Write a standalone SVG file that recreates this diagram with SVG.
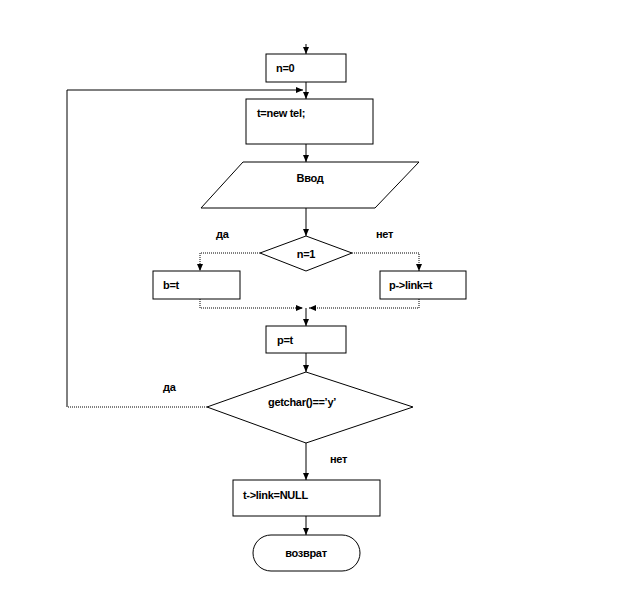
<svg xmlns="http://www.w3.org/2000/svg" width="620" height="589" viewBox="0 0 620 589">
<style>
.box{fill:#fff;stroke:#000;stroke-width:1}
.ln{fill:none;stroke:#000;stroke-width:1}
.dot{fill:none;stroke:#000;stroke-width:1;stroke-dasharray:1 1}
.t{font-family:"Liberation Sans",Arial,sans-serif;font-size:11px;font-weight:bold;fill:#000;letter-spacing:-0.3px}
</style>
<defs>
<marker id="ah" markerWidth="8" markerHeight="8" refX="7" refY="4" orient="auto" markerUnits="userSpaceOnUse">
<path d="M0,1 L7,4 L0,7 Z" fill="#000"/>
</marker>
</defs>
<rect width="620" height="589" fill="#fff"/>
<g id="connectors">
<path class="ln" d="M306,44 V54" marker-end="url(#ah)"/>
<path class="ln" d="M306,82 V99" marker-end="url(#ah)"/>
<path class="dot" d="M207,407 H67"/>
<path class="ln" d="M67,407 V90 H303" marker-end="url(#ah)"/>
<path class="ln" d="M306,144 V162" marker-end="url(#ah)"/>
<path class="ln" d="M306,208 V236" marker-end="url(#ah)"/>
<path class="dot" d="M260,253 H200 V271" marker-end="url(#ah)"/>
<path class="dot" d="M352,253 H419 V271" marker-end="url(#ah)"/>
<path class="dot" d="M200,299 V308 H303" marker-end="url(#ah)"/>
<path class="dot" d="M419,299 V308 H309" marker-end="url(#ah)"/>
<path class="ln" d="M306,308 V326" marker-end="url(#ah)"/>
<path class="ln" d="M306,353 V372" marker-end="url(#ah)"/>
<path class="ln" d="M306,443 V480" marker-end="url(#ah)"/>
<path class="ln" d="M306,516 V535" marker-end="url(#ah)"/>
</g>
<g id="n0">
<rect class="box" x="266" y="54" width="80" height="28"/>
<text class="t" x="276" y="72">n=0</text>
</g>
<g id="newtel">
<rect class="box" x="246" y="99" width="127" height="45"/>
<text class="t" x="257" y="117">t=new tel;</text>
</g>
<g id="input">
<polygon class="box" points="243,162 419,162 375,208 201,208"/>
<text class="t" x="310" y="182" text-anchor="middle">Ввод</text>
</g>
<g id="cond1">
<polygon class="box" points="306,236 352,253 306,271 260,253"/>
<text class="t" x="306" y="258" text-anchor="middle">n=1</text>
</g>
<text class="t" x="216" y="238">да</text>
<text class="t" x="376" y="238">нет</text>
<g id="bt">
<rect class="box" x="153" y="271" width="87" height="28"/>
<text class="t" x="163" y="289">b=t</text>
</g>
<g id="plink">
<rect class="box" x="380" y="271" width="86" height="28"/>
<text class="t" x="389" y="289">p-&gt;link=t</text>
</g>
<g id="pt">
<rect class="box" x="266" y="326" width="80" height="27"/>
<text class="t" x="277" y="344">p=t</text>
</g>
<g id="cond2">
<polygon class="box" points="306,372 413,407 306,443 207,407"/>
<text class="t" x="302" y="406" text-anchor="middle">getchar()==’y’</text>
</g>
<text class="t" x="163" y="391">да</text>
<text class="t" x="330" y="463">нет</text>
<g id="tnull">
<rect class="box" x="233" y="480" width="147" height="36"/>
<text class="t" x="243" y="499">t-&gt;link=NULL</text>
</g>
<g id="ret">
<rect class="box" x="253" y="535" width="107" height="36" rx="18" ry="18"/>
<text class="t" x="306" y="557" text-anchor="middle">возврат</text>
</g>
</svg>
